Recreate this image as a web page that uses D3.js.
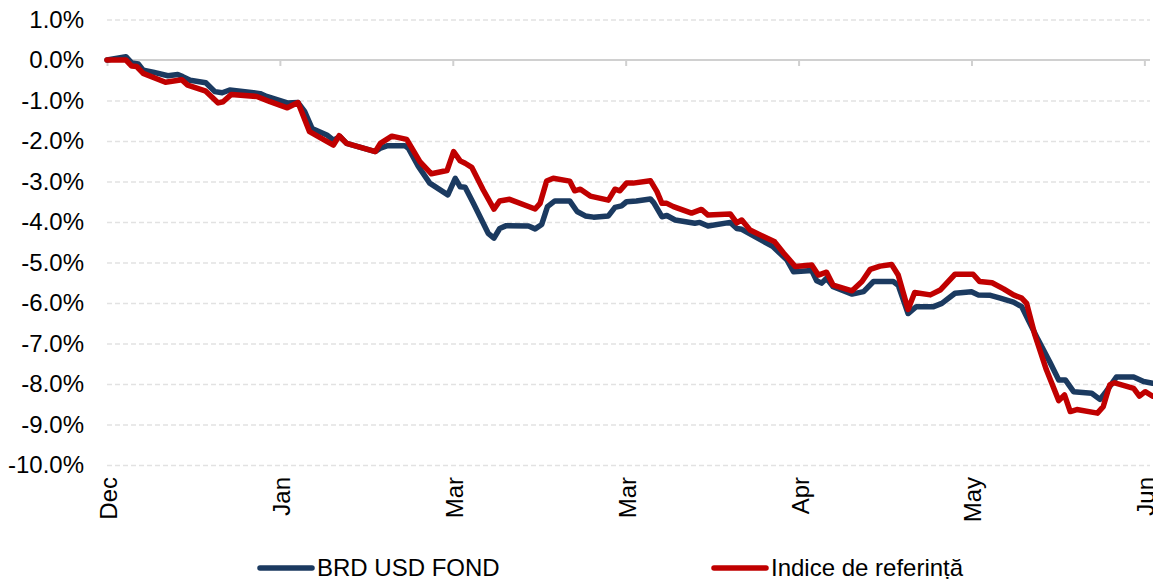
<!DOCTYPE html>
<html>
<head>
<meta charset="utf-8">
<script src="https://cdn.jsdelivr.net/npm/d3@7"></script>
<style>
  body { margin: 0; background: #fff; }
  svg { font-family: "Liberation Sans", Arial, sans-serif; }
</style>
</head>
<body>
<div id="chart"></div>
<script>
// data (x = trading day index, y = % return)
const xLabels = ["Dec", "Jan", "Mar", "Mar", "Apr", "May", "Jun"];
const xTickDays = [0, 21, 42, 63, 84, 105, 126];
const yTicks = [1, 0, -1, -2, -3, -4, -5, -6, -7, -8, -9, -10];
const seriesNames = ["BRD USD FOND", "Indice de referință"];
const seriesColors = ["#1B3A60", "#C00000"];

const fundDays = [0, 2.3, 3, 3.8, 4.4, 5.6, 7.4, 8.6, 9.2, 10.1, 12, 13.1, 14, 14.9, 18.6, 19.4, 21.9, 23.2, 24, 24.9,
  26.7, 27.5, 28.3, 29.1, 32.6, 33.2, 34, 36.2, 36.6, 37.8, 39.2, 41.4, 42.3, 42.9, 43.5, 44.5, 46.3, 47, 47.7, 48.5,
  51.2, 52, 52.8, 53.5, 54.4, 56.2, 57.1, 58.1, 59.1, 60.9, 61.7, 62.5, 63.1, 64.3, 66, 66.4, 67.4, 68, 69, 71.4,
  72, 73, 75.7, 76.5, 77.1, 80.9, 82.6, 83.4, 85.6, 86.2, 86.8, 87.4, 88.2, 90.5, 91.9, 93.1, 95.5, 96.1, 97.3, 98.3,
  100.4, 101.4, 103, 105, 105.8, 107.3, 108.5, 110.1, 111.1, 111.9, 113.1, 114.5, 115.6, 116.4, 117.4, 119.6, 120.6, 121.2, 122.6, 124.7,
  125.9, 127];
const fundValues = [0, 0.08, -0.07, -0.1, -0.25, -0.3, -0.39, -0.36, -0.41, -0.5, -0.56, -0.78, -0.81, -0.74, -0.83, -0.9, -1.06, -1.05, -1.27, -1.69,
  -1.85, -1.98, -1.89, -2.06, -2.26, -2.18, -2.12, -2.12, -2.18, -2.62, -3.04, -3.33, -2.92, -3.13, -3.14, -3.54, -4.28, -4.4, -4.16, -4.09,
  -4.1, -4.17, -4.06, -3.62, -3.48, -3.48, -3.74, -3.85, -3.88, -3.85, -3.64, -3.6, -3.5, -3.48, -3.43, -3.52, -3.87, -3.84, -3.95, -4.03,
  -4.01, -4.1, -4.01, -4.16, -4.18, -4.61, -4.94, -5.23, -5.2, -5.45, -5.51, -5.39, -5.6, -5.78, -5.72, -5.47, -5.47, -5.56, -6.26, -6.09,
  -6.09, -6.01, -5.76, -5.72, -5.8, -5.81, -5.88, -5.98, -6.09, -6.42, -6.91, -7.45, -7.9, -7.9, -8.19, -8.23, -8.38, -8.23, -7.83, -7.83,
  -7.94, -7.98];

const refDays = [0, 2.3, 3, 3.6, 4.4, 7.1, 9.1, 9.8, 12, 13.5, 14.1, 15.1, 18.2, 19.8, 21.9, 23.2, 24.6, 27.5, 28.2, 29.1,
  32.6, 33.2, 34.6, 36.4, 38, 39.4, 41.3, 42.1, 42.9, 43.5, 44.3, 45.7, 47, 47.7, 48.9, 52, 52.6, 53.4, 54.2, 56.2,
  56.8, 57.5, 58.7, 60.9, 61.7, 62.3, 63.1, 63.9, 66, 66.8, 67.4, 68, 68.8, 71, 72.2, 73, 75.7, 76.5, 77.1, 78.1,
  81.1, 82.2, 83.6, 85.6, 86.4, 87.4, 88.2, 90.5, 91.7, 92.7, 93.9, 95.3, 96.1, 97.3, 98.1, 100, 101.2, 103, 105.2, 106,
  107.5, 108.9, 110.1, 111.1, 111.7, 112.7, 114.1, 115.6, 116.3, 117, 117.8, 120.3, 121, 121.8, 122.4, 124.7, 125.4, 126.1, 127];
const refValues = [0, 0, -0.15, -0.16, -0.33, -0.55, -0.49, -0.62, -0.77, -1.06, -1.03, -0.85, -0.9, -1.03, -1.18, -1.05, -1.77, -2.1, -1.87, -2.06,
  -2.26, -2.06, -1.88, -1.96, -2.51, -2.81, -2.73, -2.26, -2.49, -2.55, -2.65, -3.21, -3.68, -3.48, -3.44, -3.68, -3.54, -2.99, -2.92, -2.99,
  -3.23, -3.19, -3.36, -3.46, -3.19, -3.23, -3.04, -3.04, -2.98, -3.25, -3.54, -3.54, -3.62, -3.78, -3.69, -3.83, -3.8, -4.02, -3.95, -4.2,
  -4.49, -4.77, -5.1, -5.06, -5.31, -5.24, -5.56, -5.7, -5.47, -5.17, -5.09, -5.05, -5.31, -6.16, -5.74, -5.8, -5.68, -5.29, -5.29, -5.47,
  -5.5, -5.65, -5.8, -5.88, -6.01, -6.79, -7.65, -8.41, -8.27, -8.68, -8.63, -8.72, -8.56, -8.02, -7.97, -8.11, -8.3, -8.19, -8.3];

const width = 1153;
const height = 579;
const plotLeft = 107;
const plotRight = 1150;
const fontSize = 24;

const x = d3.scaleLinear().domain([0, 127]).range([107, 1152.6]);
const y = d3.scaleLinear().domain([-10, 1]).range([465, 19.5]);

const lineGen = d3
  .line()
  .x((d) => x(d.day))
  .y((d) => y(d.value));

function zipSeries(days, values) {
  return days.map((d, i) => ({ day: d, value: values[i] }));
}

function drawGrid(svg) {
  const grid = svg
    .append("g")
    .attr("transform", `translate(${plotLeft},0)`)
    .call(
      d3
        .axisLeft(y)
        .tickValues(yTicks.filter((v) => v !== 0))
        .tickSize(-(plotRight - plotLeft))
        .tickFormat("")
    );
  grid.select(".domain").remove();
  grid
    .selectAll("line")
    .attr("stroke", "#E2E2E2")
    .attr("stroke-width", 1.5)
    .attr("stroke-dasharray", "5,3");
}

function drawYLabels(svg) {
  svg
    .append("g")
    .selectAll("text")
    .data(yTicks)
    .join("text")
    .attr("x", 84)
    .attr("y", (d) => y(d))
    .attr("dy", "0.35em")
    .attr("text-anchor", "end")
    .attr("font-size", fontSize)
    .attr("fill", "#000")
    .text((d) => d.toFixed(1) + "%");
}

function drawZeroAxis(svg) {
  const ax = svg
    .append("g")
    .attr("transform", `translate(0,${y(0)})`)
    .call(d3.axisBottom(x).tickValues(xTickDays).tickSize(6).tickSizeOuter(0).tickFormat(""));
  ax.select(".domain")
    .attr("d", `M${plotLeft},0H${plotRight}`)
    .attr("stroke", "#D0D0D0")
    .attr("stroke-width", 2);
  ax.selectAll(".tick line").attr("stroke", "#D0D0D0").attr("stroke-width", 2);
}

function drawXLabels(svg) {
  svg
    .append("g")
    .selectAll("text")
    .data(xTickDays)
    .join("text")
    .attr("transform", (d) => `translate(${x(d) + 10},477) rotate(-90)`)
    .attr("text-anchor", "end")
    .attr("font-size", fontSize)
    .attr("fill", "#000")
    .text((d, i) => xLabels[i]);
}

function drawLines(svg) {
  const series = [zipSeries(fundDays, fundValues), zipSeries(refDays, refValues)];
  series.forEach((s, i) => {
    svg
      .append("path")
      .datum(s)
      .attr("d", lineGen)
      .attr("fill", "none")
      .attr("stroke", seriesColors[i])
      .attr("stroke-width", 5.5)
      .attr("stroke-linejoin", "round")
      .attr("stroke-linecap", "round");
  });
}

function drawLegend(svg) {
  const items = [
    { x: 258, name: seriesNames[0], color: seriesColors[0] },
    { x: 712, name: seriesNames[1], color: seriesColors[1] },
  ];
  items.forEach((it) => {
    svg
      .append("line")
      .attr("x1", it.x + 2)
      .attr("x2", it.x + 54)
      .attr("y1", 568)
      .attr("y2", 568)
      .attr("stroke", it.color)
      .attr("stroke-width", 5.5)
      .attr("stroke-linecap", "round");
    svg
      .append("text")
      .attr("x", it.x + 59)
      .attr("y", 576)
      .attr("font-size", fontSize)
      .attr("fill", "#000")
      .text(it.name);
  });
}

const svg = d3
  .select("#chart")
  .append("svg")
  .attr("width", width)
  .attr("height", height);

drawGrid(svg);
drawZeroAxis(svg);
drawYLabels(svg);
drawXLabels(svg);
drawLines(svg);
drawLegend(svg);
</script>
</body>
</html>
